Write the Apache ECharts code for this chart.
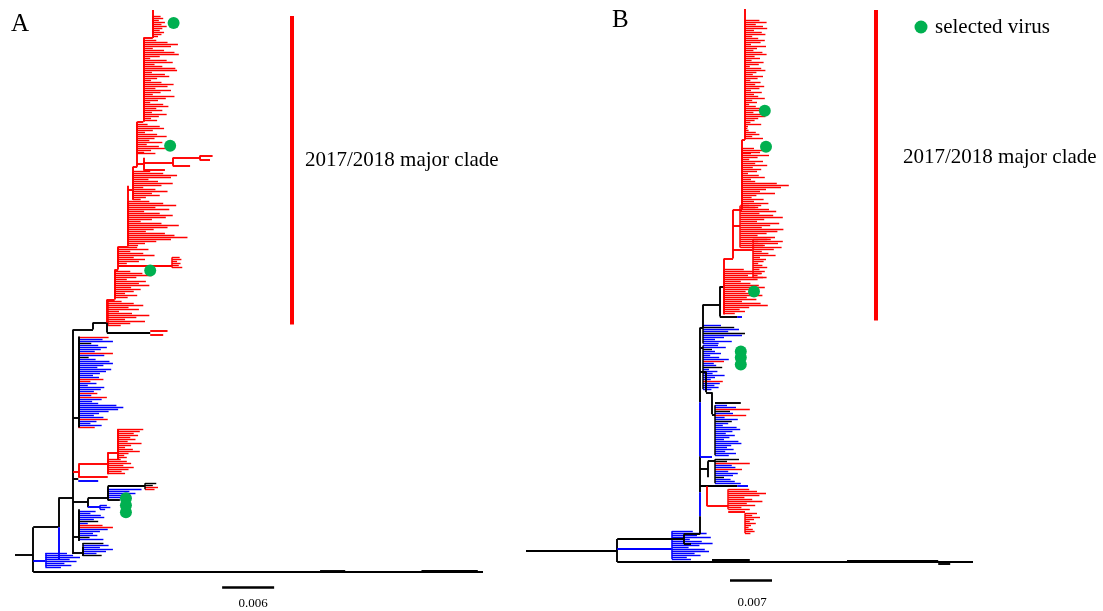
<!DOCTYPE html>
<html>
<head>
<meta charset="utf-8">
<script src="https://cdn.jsdelivr.net/npm/echarts@6/dist/echarts.min.js"></script>
<style>
  html, body { margin: 0; padding: 0; background: #fff; }
  #chart { width: 1103px; height: 611px; }
</style>
</head>
<body>
<div id="chart"></div>
<script>
// x = branch length in 0.001 substitutions/site, y = tip row (top = 0)
// edges: [x1, row1, x2, row2, colour]   k = black, r = 2017/2018, b = blue
// fans:  [stemX, firstRow, stemColour, tipColours, tipLengths]

var treeA_edges = [
  [0, 272, 2.1, 272, 'k'],
  [2.1, 258, 2.1, 280.5, 'k'],
  [2.1, 280.5, 54.0, 280.5, 'k'],
  [35.2, 279.6, 38.1, 279.6, 'k'],
  [46.9, 279.7, 53.4, 279.7, 'k'],
  [2.1, 258, 5.0, 258, 'k'],
  [5.0, 243.5, 5.0, 258, 'k'],
  [5.0, 258, 5.0, 274, 'b'],
  [2.1, 275, 3.5, 275, 'b'],
  [5.0, 243.5, 6.7, 243.5, 'k'],
  [6.7, 159, 6.7, 271.5, 'k'],
  [6.7, 159, 9.0, 159, 'k'],
  [9.0, 155.5, 9.0, 159, 'k'],
  [9.0, 155.5, 10.6, 155.5, 'k'],
  [10.6, 155.5, 10.6, 160.5, 'k'],
  [10.6, 160.5, 15.6, 160.5, 'k'],
  [15.6, 159.5, 17.6, 159.5, 'r'],
  [15.6, 161.5, 17.1, 161.5, 'r'],
  // 2017/2018 clade backbone
  [10.6, 144, 10.6, 155.5, 'r'],
  [10.6, 144, 11.5, 144, 'r'],
  [11.5, 129, 11.5, 144, 'r'],
  [11.5, 129, 11.9, 129, 'r'],
  [11.9, 117.5, 11.9, 129, 'r'],
  [11.9, 117.5, 13.0, 117.5, 'r'],
  [13.0, 87, 13.0, 117.5, 'r'],
  [13.0, 89, 13.6, 89, 'r'],
  [13.6, 77.5, 13.6, 94, 'r'],
  [13.6, 77.5, 14.1, 77.5, 'r'],
  [14.1, 55, 14.1, 77.5, 'r'],
  [14.1, 55, 14.8, 55, 'r'],
  [14.8, 13, 14.8, 55, 'r'],
  [14.8, 13, 15.9, 13, 'r'],
  [15.9, -1, 15.9, 13, 'r'],
  [14.1, 76, 14.8, 76, 'r'],
  [14.8, 73, 14.8, 79, 'r'],
  [14.8, 79, 17.3, 79, 'r'],
  [14.8, 75.5, 18.2, 75.5, 'r'],
  [18.2, 73, 18.2, 77, 'r'],
  [18.2, 73, 21.3, 73, 'r'],
  [18.2, 77, 20.2, 77, 'r'],
  [21.3, 72, 21.3, 74, 'r'],
  [21.3, 72, 22.8, 72, 'r'],
  [21.3, 74, 22.5, 74, 'r'],
  [11.9, 127, 18.1, 127, 'r'],
  // mixed clusters below the clade
  [6.7, 203, 7.3, 203, 'k'],
  [7.3, 162.5, 7.3, 208, 'k'],
  [6.7, 230.5, 7.3, 230.5, 'r'],
  [7.3, 226.5, 7.3, 233, 'r'],
  [7.3, 226.5, 10.7, 226.5, 'r'],
  [10.7, 220.5, 10.7, 231.5, 'r'],
  [10.7, 220.5, 11.8, 220.5, 'r'],
  [11.8, 209, 11.8, 224, 'r'],
  [7.3, 233, 10.7, 233, 'r'],
  [6.7, 233.8, 7.3, 233.8, 'k'],
  [7.3, 234.8, 9.6, 234.8, 'b'],
  [6.7, 245.5, 8.4, 245.5, 'k'],
  [8.4, 243.5, 8.4, 248, 'k'],
  [8.4, 243.5, 10.7, 243.5, 'k'],
  [10.7, 237.5, 10.7, 244.5, 'k'],
  [10.7, 237.5, 15.0, 237.5, 'k'],
  [10.7, 244.5, 12.1, 244.5, 'k'],
  [8.4, 248, 9.8, 248, 'b'],
  [7.3, 249, 7.3, 265, 'k'],
  [6.7, 263, 7.3, 263, 'k'],
  [6.7, 271, 7.8, 271, 'k'],
  [7.8, 268, 7.8, 272.5, 'k']
];

var treeA_fans = [
  [15.9, 2, 'r', null, [0.9, 1.2, 0.7, 1.4, 1.0, 1.6, 1.1, 0.8, 1.3, 1.0, 0.6]],
  [14.8, 14, 'r', null, [1.5, 2.8, 4.0, 3.2, 1.1, 2.4, 3.6, 4.1, 1.9, 0.8, 2.7, 3.4, 1.3, 2.2, 3.7, 3.9, 1.0, 2.5, 3.0, 1.6,
    0.9, 2.1, 3.5, 2.8, 1.4, 3.2, 2.0, 1.1, 3.6, 2.6, 1.7, 0.8, 2.3, 2.9, 1.5, 2.2, 1.0, 2.7, 1.8, 0.9, 1.6]],
  [14.1, 56, 'r', null, [1.2, 2.6, 3.1, 1.8, 0.9, 2.3, 3.4, 2.0, 1.4, 2.9, 1.1, 2.5, 3.2, 1.6, 0.8, 2.1]],
  [13.6, 80, 'r', null, [2.0, 3.5, 5.1, 4.4, 1.8, 2.9, 4.6, 3.3, 1.2, 2.6, 4.0, 2.2, 3.1, 1.5, 0.9]],
  [13.0, 95, 'r', null, [2.5, 4.1, 5.6, 3.2, 4.8, 1.9, 3.7, 5.2, 4.4, 2.8, 1.5, 3.9, 5.9, 4.6, 3.0, 2.1, 4.3, 5.4, 6.9, 5.0, 3.3, 2.0, 1.2]],
  [11.9, 118, 'r', null, [2.2, 3.5, 1.4, 2.9, 4.2, 1.8, 3.1, 2.4, 1.0]],
  [18.1, 123, 'r', null, [0.9, 1.1, 0.6, 1.0, 0.8, 1.2]],
  [11.5, 130, 'r', null, [1.8, 3.2, 4.3, 2.5, 1.4, 3.6, 2.8, 4.0, 1.9, 3.0, 2.2, 1.2, 2.6, 1.5]],
  [10.7, 145, 'r', null, [1.6, 3.0, 4.1, 2.4, 3.6, 1.3, 2.8, 4.8, 3.3, 2.0, 4.3, 2.6, 1.5]],
  [15.0, 236, 'k', 'kkrr', [1.3, 0.9, 1.5, 1.1]],
  [7.3, 163, 'k', 'rbbkbbbbrbkbbbbbbbbbbrrbbbbbrbrbbbbbbbbbbrbbbr',
    [3.5, 2.8, 4.0, 1.5, 2.3, 3.3, 2.6, 1.9, 4.0, 3.0, 1.2, 2.0, 3.6, 4.0, 2.9, 2.2, 3.8, 3.2, 2.5, 1.7,
     2.4, 2.9, 1.4, 2.1, 1.1, 3.0, 2.6, 1.8, 2.2, 1.5, 3.3, 2.7, 1.6, 2.3, 4.4, 5.2, 4.6, 3.5, 2.4, 1.8,
     2.9, 3.4, 2.1, 1.4, 2.7, 1.9]],
  [11.8, 209, 'r', null, [3.0, 2.6, 1.9, 2.4, 1.5, 2.1, 1.2, 2.8, 1.6, 0.9, 1.8, 2.6, 1.3, 0.8, 1.1]],
  [10.7, 224, 'r', null, [1.5, 2.2, 2.7, 1.8, 3.0, 2.4, 1.6, 2.0]],
  [10.7, 239, 'k', 'bbbbb', [3.9, 2.5, 3.2, 1.8, 2.7]],
  [9.8, 247, 'b', null, [0.8, 1.2, 0.6]],
  [7.3, 250, 'k', 'bbbbbkbrrbbbbkb', [2.0, 1.4, 2.6, 3.0, 1.8, 2.3, 1.1, 2.8, 4.0, 3.4, 2.5, 1.7, 2.2, 1.3, 2.9]],
  [7.8, 266, 'k', 'kbbbbbk', [2.4, 3.0, 2.0, 3.5, 2.7, 1.6, 2.2]],
  [3.5, 271, 'b', null, [2.5, 3.2, 4.0, 2.8, 3.6, 2.2, 3.0, 1.8]]
];

var treeB_edges = [
  [0, 270, 15.2, 270, 'k'],
  [15.2, 264, 15.2, 275.5, 'k'],
  [15.2, 275.5, 74.5, 275.5, 'k'],
  [31.0, 274.2, 37.3, 274.2, 'k'],
  [53.5, 274.9, 68.7, 274.9, 'k'],
  [68.7, 276.1, 70.7, 276.1, 'k'],
  [15.2, 264, 26.3, 264, 'k'],
  [26.3, 261.5, 26.3, 266.5, 'k'],
  [26.3, 261.5, 29.0, 261.5, 'k'],
  [15.2, 269, 24.3, 269, 'b'],
  [26.3, 266.5, 27.5, 266.5, 'k'],
  [29.0, 158, 29.0, 195.5, 'k'],
  [29.0, 195.5, 29.0, 222.5, 'b'],
  [29.0, 222.5, 29.0, 240.5, 'k'],
  [29.0, 240.5, 29.0, 252.5, 'b'],
  [29.0, 252.5, 29.0, 261.5, 'k'],
  [29.0, 237.5, 35.2, 237.5, 'k'],
  [35.2, 237.5, 37.0, 237.5, 'b'],
  [30.2, 237.5, 30.2, 247.5, 'r'],
  [30.2, 247.5, 33.7, 247.5, 'r'],
  [33.7, 250.5, 36.5, 250.5, 'r'],
  [29.0, 229, 30.3, 229, 'k'],
  [30.3, 225, 30.3, 233, 'k'],
  [30.3, 225, 31.5, 225, 'k'],
  [29.0, 180, 30.0, 180, 'k'],
  [30.0, 180, 30.0, 190.5, 'k'],
  [30.0, 190.5, 31.0, 190.5, 'k'],
  [31.0, 190.5, 31.0, 201.5, 'k'],
  [31.0, 201.5, 31.5, 201.5, 'k'],
  [31.5, 195.5, 35.8, 195.5, 'k'],
  [29.0, 222.5, 31.0, 222.5, 'b'],
  [29.0, 168, 29.5, 168, 'k'],
  [29.0, 158, 29.5, 158, 'k'],
  [29.5, 146.5, 29.5, 158, 'k'],
  [29.5, 146.5, 32.3, 146.5, 'k'],
  [32.3, 137.5, 32.3, 152.5, 'k'],
  [32.3, 137.5, 33.0, 137.5, 'k'],
  [32.3, 152.5, 35.2, 152.5, 'k'],
  [35.2, 152.5, 36.0, 152.5, 'b'],
  // 2017/2018 clade backbone
  [33.0, 123.5, 33.0, 151.5, 'r'],
  [33.0, 123.5, 34.5, 123.5, 'r'],
  [34.5, 99, 34.5, 123.5, 'r'],
  [34.5, 119, 37.8, 119, 'r'],
  [34.5, 107, 35.7, 107, 'r'],
  [34.5, 99, 36.0, 99, 'r'],
  [36.0, 64, 36.0, 99, 'r'],
  [36.0, 64, 36.5, 64, 'r'],
  [36.5, -1.5, 36.5, 64, 'r']
];

var treeB_fans = [
  [36.5, 4, 'r', null, [2.4, 3.6, 1.8, 3.0, 3.7, 1.5, 2.8, 3.4, 1.2, 2.2, 3.3, 2.6, 1.0, 3.5, 2.0, 1.4, 2.9, 3.6, 1.6, 2.5,
    1.1, 3.1, 2.3, 0.8, 2.7, 3.4, 1.9, 1.3, 3.0, 2.1, 0.9, 2.6, 1.7, 3.2, 2.4, 1.0, 2.8, 1.5, 2.2, 3.3,
    1.2, 2.0, 0.7, 1.8, 3.0, 2.5, 1.4, 2.9, 3.4, 2.2, 1.6, 0.9, 2.7, 0.5, 0.4, 0.6, 1.8, 2.4, 1.2, 3.0]],
  [36.0, 68, 'r', null, [2.0, 4.0, 3.0, 1.5, 4.5, 2.6, 1.2, 3.5, 2.2, 4.2, 1.8, 3.2, 2.5, 1.0, 2.8, 3.8, 1.5, 2.2, 5.8, 7.8,
    6.5, 4.0, 3.0, 5.5, 2.4, 1.6, 3.6, 2.0, 4.4, 1.2, 2.7]],
  [35.7, 97, 'r', null, [3.5, 2.5, 4.8, 6.0, 3.2, 5.5, 7.1, 4.0, 2.8, 6.5, 5.0, 3.6, 7.2, 6.2, 4.4, 2.9, 5.8, 4.5, 3.0, 2.0, 3.8, 2.4]],
  [37.8, 114, 'r', null, [3.0, 5.0, 4.2, 2.0, 4.8, 3.5, 1.5, 2.6, 3.8, 1.2, 2.2, 1.8, 0.9, 1.6, 2.4, 1.1, 2.0, 1.4, 0.8, 1.7]],
  [33.0, 129, 'r', null, [3.3, 4.8, 6.3, 4.0, 7.1, 5.6, 2.8, 4.4, 5.8, 6.8, 5.2, 3.6, 4.7, 6.4, 3.8, 5.4, 3.0, 6.1, 7.3, 4.2, 2.6, 3.5, 1.8]],
  [29.5, 157, 'k', 'bkbbkbbbbb', [3.0, 5.2, 6.0, 4.2, 7.0, 6.5, 3.5, 2.0, 4.8, 2.6]],
  [29.5, 167, 'k', 'bbkbbbbbrbbkbbbbbbrbbbb', [2.5, 3.8, 1.5, 2.0, 3.0, 1.2, 2.7, 4.3, 3.5, 1.8, 2.2, 3.2, 1.0, 2.4, 1.6, 3.6, 2.0, 1.3, 3.3, 2.8, 1.9, 2.6, 1.4]],
  [31.5, 197, 'k', 'bbrkbrbbkbbbbbbbbbbbbbbbbb', [2.0, 3.5, 5.8, 2.5, 3.0, 5.2, 1.6, 3.8, 2.8, 2.2, 1.3, 3.6, 4.2, 2.9, 1.8, 3.3, 2.4, 1.5, 3.9, 4.4, 2.7, 2.0, 3.1, 1.7, 3.5, 2.3]],
  [31.5, 224, 'k', 'kkrbbrbbbkbbb', [4.0, 2.0, 5.8, 2.8, 3.4, 4.5, 2.2, 3.8, 3.0, 1.5, 2.6, 3.3, 4.3]],
  [33.7, 239, 'r', null, [3.5, 4.8, 6.3, 5.2, 2.7, 4.0, 5.7, 3.1, 4.5, 2.2, 3.6]],
  [36.5, 251, 'r', null, [2.0, 1.2, 2.5, 1.5, 0.8, 1.8, 1.0, 0.6, 1.3, 1.6, 0.9]],
  [24.3, 260, 'b', null, [3.5, 5.8, 4.2, 6.5, 3.0, 5.0, 6.8, 4.6, 2.8, 5.5, 6.2, 3.8, 4.8, 2.5, 3.2]]
];

// selected viruses [x, row]
var selectedA = [[18.3, 5.5], [17.9, 67], [15.6, 129.5], [12.8, 243.5], [12.8, 247], [12.8, 250.5]];
var selectedB = [[39.8, 49.5], [40.0, 67.5], [38.0, 140], [35.8, 170], [35.8, 173], [35.8, 176.5]];

// clade marker [x, rowTop, rowBottom] and scale bars [x1, x2, row]
var cladeBarA = [31.9, 2, 156.5];
var cladeBarB = [58.3, -1, 154.5];
var scaleBarA = [23.9, 29.9, 288];
var scaleBarB = [34.0, 41.0, 284.5];
var scaleLabels = ['0.006', '0.007'];
var cladeLabel = '2017/2018 major clade';
var legendLabel = 'selected virus';

var COLORS = { k: '#000000', r: '#ff0000', b: '#0000ff' };
var GREEN = '#00b050';
var FONT = '"Liberation Serif", "Times New Roman", serif';

function seg(x1, y1, x2, y2, color, width) {
  return { coords: [[x1, y1], [x2, y2]], lineStyle: { color: color, width: width, opacity: 1 } };
}

function treeLines(edges, fans) {
  var out = [];
  fans.forEach(function (f) {
    var x0 = f[0], row0 = f[1], stem = f[2], cols = f[3], lens = f[4];
    lens.forEach(function (len, i) {
      var c = cols ? (cols[i] || 'b') : stem;
      out.push(seg(x0, row0 + i, x0 + len, row0 + i, COLORS[c], 1.4));
    });
    out.push(seg(x0, row0, x0, row0 + lens.length - 1, COLORS[stem], 1.5));
  });
  edges.forEach(function (e) {
    out.push(seg(e[0], e[1], e[2], e[3], COLORS[e[4]], 1.9));
  });
  return out;
}

function markLines(bar, scale) {
  return [
    seg(bar[0], bar[1], bar[0], bar[2], '#ff0000', 4),
    seg(scale[0], scale[2], scale[1], scale[2], '#000000', 2.5)
  ];
}

var chart = echarts.init(document.getElementById('chart'), null, { renderer: 'canvas' });

var yAxisBase = { type: 'value', min: -6, max: 300, inverse: true, show: false };

var option = {
  animation: false,
  backgroundColor: '#ffffff',
  grid: [
    { left: 15, top: 0, width: 520, height: 612 },
    { left: 526, top: 0, width: 468, height: 612 }
  ],
  xAxis: [
    { type: 'value', gridIndex: 0, min: 0, max: 60, show: false },
    { type: 'value', gridIndex: 1, min: 0, max: 78, show: false }
  ],
  yAxis: [
    Object.assign({ gridIndex: 0 }, yAxisBase),
    Object.assign({ gridIndex: 1 }, yAxisBase)
  ],
  series: [
    {
      type: 'lines', coordinateSystem: 'cartesian2d', xAxisIndex: 0, yAxisIndex: 0,
      silent: true, clip: false, lineStyle: { opacity: 1 },
      data: treeLines(treeA_edges, treeA_fans).concat(markLines(cladeBarA, scaleBarA))
    },
    {
      type: 'lines', coordinateSystem: 'cartesian2d', xAxisIndex: 1, yAxisIndex: 1,
      silent: true, clip: false, lineStyle: { opacity: 1 },
      data: treeLines(treeB_edges, treeB_fans).concat(markLines(cladeBarB, scaleBarB))
    },
    {
      type: 'scatter', xAxisIndex: 0, yAxisIndex: 0, symbolSize: 12, silent: true,
      itemStyle: { color: GREEN, opacity: 1 }, data: selectedA
    },
    {
      type: 'scatter', xAxisIndex: 1, yAxisIndex: 1, symbolSize: 12, silent: true,
      itemStyle: { color: GREEN, opacity: 1 }, data: selectedB
    }
  ],
  graphic: [
    { type: 'text', x: 11, y: 24, style: { text: 'A', font: '25px ' + FONT, fill: '#000', verticalAlign: 'middle' } },
    { type: 'text', x: 612, y: 20, style: { text: 'B', font: '25px ' + FONT, fill: '#000', verticalAlign: 'middle' } },
    { type: 'text', x: 305, y: 160, style: { text: cladeLabel, font: '21px ' + FONT, fill: '#000', verticalAlign: 'middle' } },
    { type: 'text', x: 903, y: 157, style: { text: cladeLabel, font: '21px ' + FONT, fill: '#000', verticalAlign: 'middle' } },
    { type: 'circle', shape: { cx: 921, cy: 27, r: 6.5 }, style: { fill: GREEN } },
    { type: 'text', x: 935, y: 27, style: { text: legendLabel, font: '21px ' + FONT, fill: '#000', verticalAlign: 'middle' } },
    { type: 'text', x: 253, y: 604, style: { text: scaleLabels[0], font: '13px ' + FONT, fill: '#000', align: 'center', verticalAlign: 'middle' } },
    { type: 'text', x: 752, y: 603, style: { text: scaleLabels[1], font: '13px ' + FONT, fill: '#000', align: 'center', verticalAlign: 'middle' } }
  ]
};

chart.setOption(option);
</script>
</body>
</html>
